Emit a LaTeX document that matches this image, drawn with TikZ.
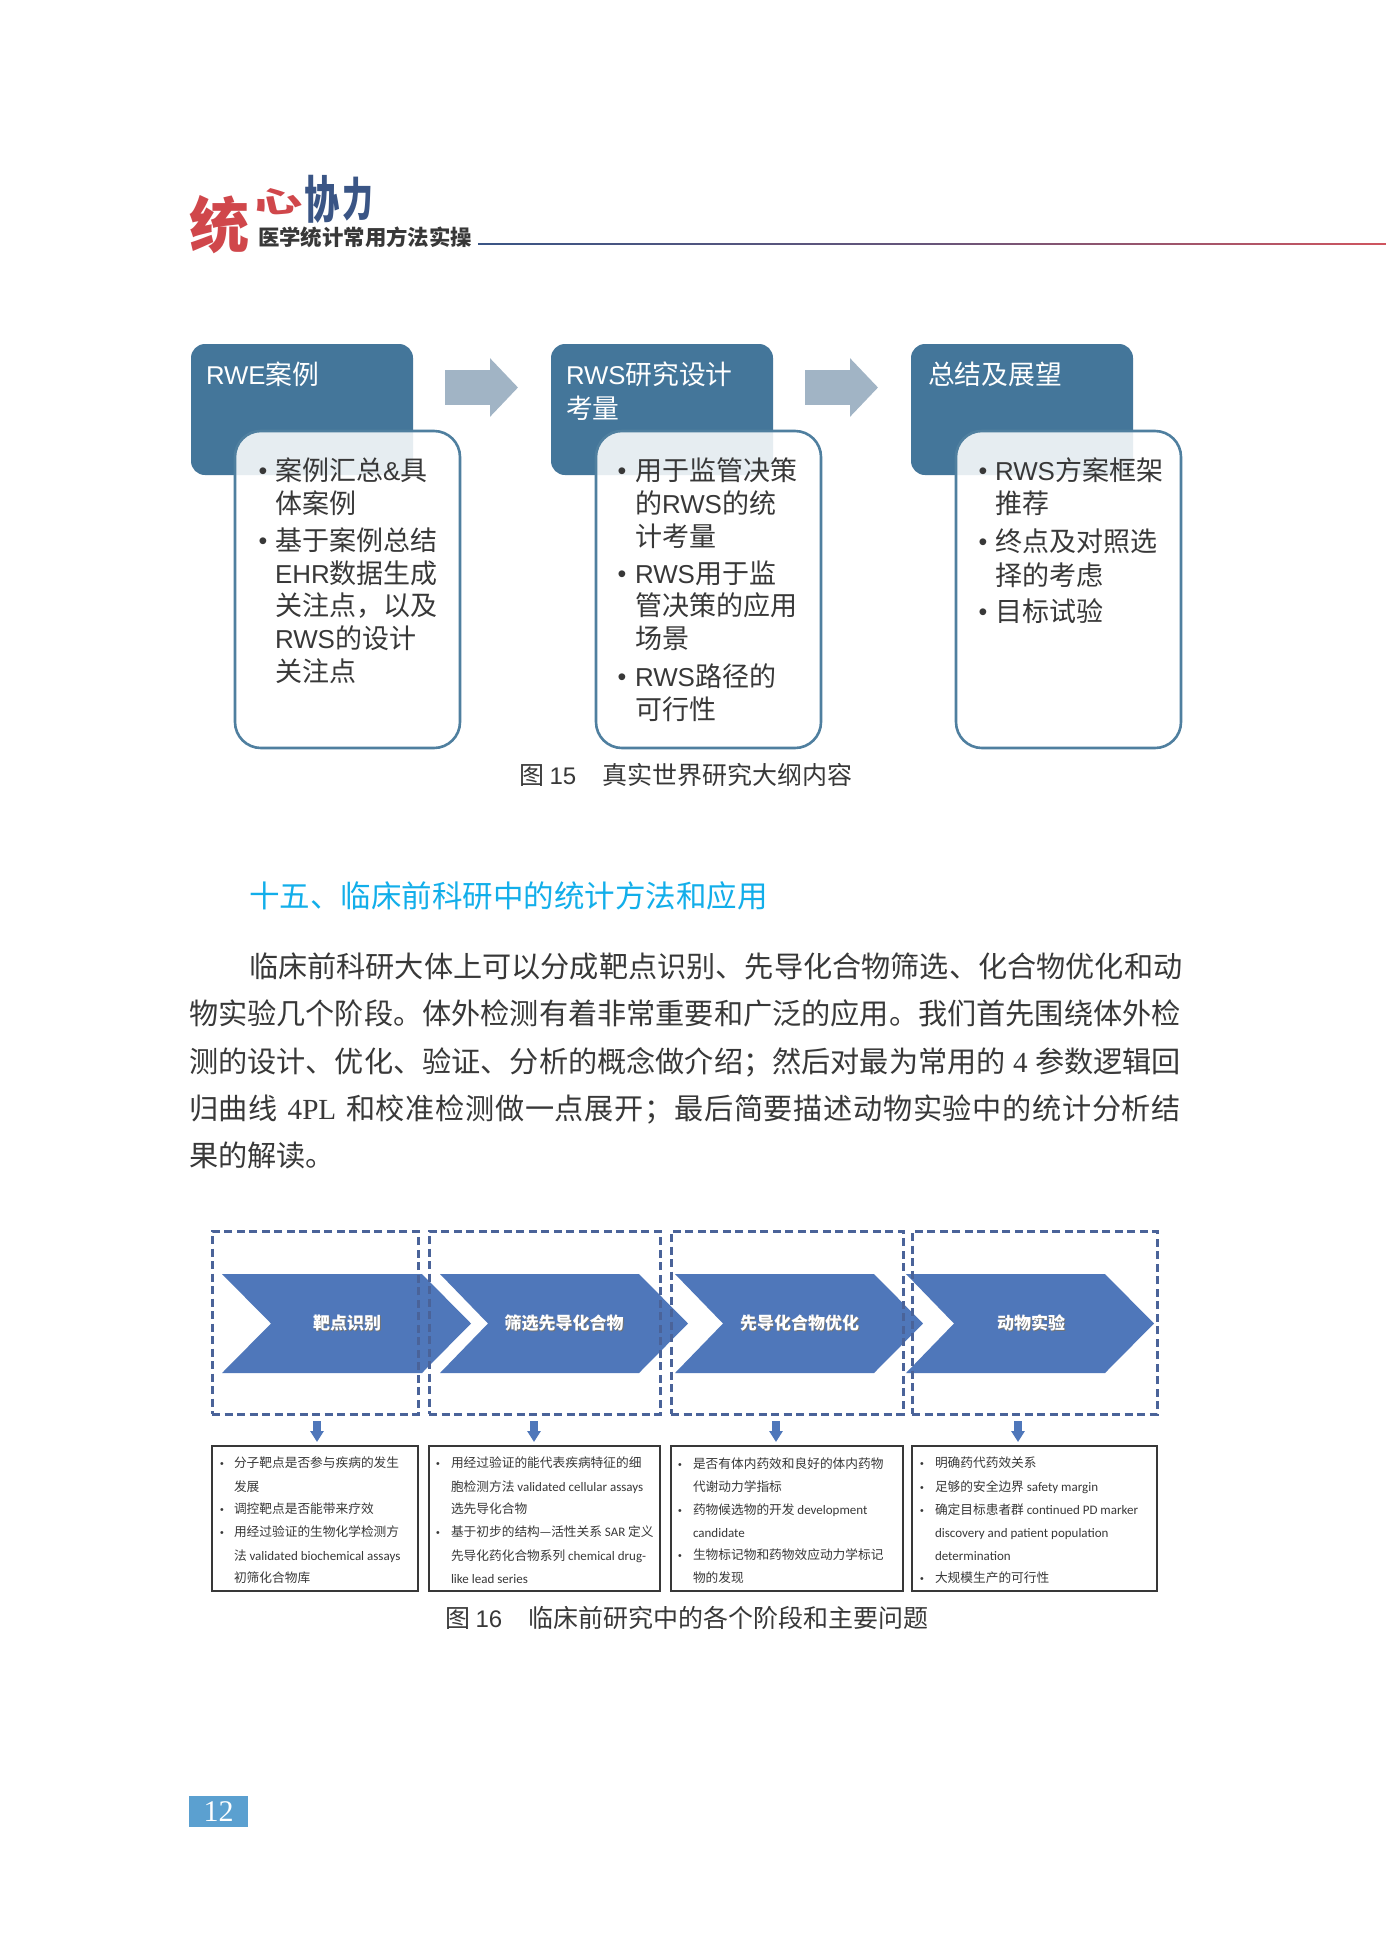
\documentclass[tikz,border=0pt]{standalone}
\usepackage{fontspec}
\usetikzlibrary{arrows.meta}
\setmainfont{Noto Sans CJK SC}
\newfontfamily\arialf[Scale=.96]{Liberation Sans}
\newfontfamily\timesf{Liberation Serif}
\newfontfamily\calf{Carlito}
\newcommand\AR[1]{{\arialf #1}}
\newcommand\TM[1]{{\timesf #1}}
\newcommand\CL[1]{{\calf\fontsize{13}{14}\selectfont #1}}
\newcommand\fs[1]{\fontsize{#1}{#1}\selectfont}
\definecolor{hdark}{HTML}{44769A}
\definecolor{hline}{HTML}{4F7F9F}
\definecolor{harrow}{HTML}{A1B4C5}
\definecolor{ink}{HTML}{383838}
\definecolor{dashc}{HTML}{4A6399}
\definecolor{chevc}{HTML}{4F77BA}
\definecolor{cyanh}{HTML}{12AEEA}
\definecolor{pageb}{HTML}{5BA0D0}
\definecolor{logor}{HTML}{D0474B}
\definecolor{logob}{HTML}{3A5585}
\definecolor{lineend}{HTML}{D0555F}
\tikzset{
  x=1pt,y=-1pt,
  sz/.code 2 args={\pgfmathsetmacro\myth{#2*.88}\pgfmathsetmacro\mytd{#2*.12}%
    \tikzset{font=#1\fs{#2},text height=\myth pt,text depth=\mytd pt}},
  tx/.style={inner sep=0pt,outer sep=0pt,anchor=west,text=ink},
  ctr/.style={tx,anchor=center},
  titletx/.style={tx,text=white,sz={}{26.8}},
  bodytx/.style={tx,sz={}{27}},
  bul/.style={ctr,sz={\arialf}{26}},
  darkbox/.style={fill=hdark,rounded corners=14pt,minimum width=222pt,minimum height=131pt,inner sep=0pt},
  whitebox/.style={draw=hline,line width=2.6pt,fill=white,fill opacity=.87,rounded corners=26pt,minimum width=225pt,minimum height=317pt,inner sep=0pt},
  bigarrow/.style={draw=harrow,line width=35pt,-{Triangle[length=28pt,width=57pt]}},
  captx/.style={tx,sz={}{25}},
  paratx/.style={tx,sz={}{29.17}},
  dashbox/.style={draw=dashc,line width=3pt,dash pattern=on 8pt off 4.5pt,minimum height=183pt,inner sep=0pt},
  solidbox/.style={draw=ink,line width=2.8pt,minimum height=145pt,inner sep=0pt},
  chevf/.style={fill=chevc},
  chevt/.style={ctr,text=white,sz={\bfseries}{17}},
  chevs/.style={ctr,text=black!55,sz={\bfseries}{17}},
  smalltx/.style={tx,sz={}{12.7}},
  sbul/.style={ctr,sz={\arialf}{11}},
  downarrow/.style={draw=chevc,line width=8pt,-{Triangle[length=11pt,width=13pt]}},
}
\newcommand\chevron[4]{\fill[chevf] (#1,1274) -- (#3,1274) -- (#4,1323.5) -- (#3,1373) -- (#1,1373) -- (#2,1323.5) -- cycle;}
\begin{document}
\begin{tikzpicture}
\useasboundingbox[fill=white] (0,0) rectangle (1386,1938);

% header
\begin{scope}[shift={(219,225)},xslant=.12]
  \node[ctr,text=logor,sz={\bfseries}{60}] (logoa) at (0,0) {统};
\end{scope}
\node[ctr,text=logor,sz={\bfseries}{48},yscale=.6,rotate=8] (logob) at (278,202) {心};
\begin{scope}[shift={(322,199)},xslant=.25]
  \node[ctr,text=logob,sz={\bfseries}{44},xscale=.8,yscale=1.15] (logoc) at (0,0) {协};
\end{scope}
\begin{scope}[shift={(358,199)},xslant=.25]
  \node[ctr,text=logob,sz={\bfseries}{44},xscale=.7,yscale=1.05] (logod) at (0,0) {力};
\end{scope}
\node[tx,sz={\bfseries}{21.4}] (head) at (258,237) {医学统计常用方法实操};
\shade[left color=logob,right color=lineend,middle color=logob!70!lineend] (478,243.4) rectangle (1386,244.6);

% figure 15
\node[darkbox] (d1) at (302,409.5) {};
\node[darkbox] (d2) at (662,409.5) {};
\node[darkbox] (d3) at (1022,409.5) {};
\node[titletx] (dt1) at (206,374) {\AR{RWE}案例};
\node[titletx] (dt2) at (566,374) {\AR{RWS}研究设计};
\node[titletx] (dt2b) at (566,408) {考量};
\node[titletx] (dt3) at (928,374) {总结及展望};
\node[whitebox] (w1) at (347.5,589.5) {};
\node[whitebox] (w2) at (708.5,589.5) {};
\node[whitebox] (w3) at (1068.5,589.5) {};
\coordinate (a1s) at (445,387.5); \coordinate (a1e) at (518,387.5);
\coordinate (a2s) at (805,387.5); \coordinate (a2e) at (878,387.5);
\draw[bigarrow] (a1s) -- (a1e);
\draw[bigarrow] (a2s) -- (a2e);

\node[bul] (b11) at (263,470) {•};
\node[bodytx] (l11) at (275,470) {案例汇总\AR{\&}具};
\node[bodytx] (l12) at (275,503) {体案例};
\node[bul] (b12) at (263,540) {•};
\node[bodytx] (l13) at (275,540) {基于案例总结};
\node[bodytx] (l14) at (275,573) {\AR{EHR}数据生成};
\node[bodytx] (l15) at (275,605) {关注点，以及};
\node[bodytx] (l16) at (275,638) {\AR{RWS}的设计};
\node[bodytx] (l17) at (275,671) {关注点};

\node[bul] (b21) at (622,470) {•};
\node[bodytx] (l21) at (635,470) {用于监管决策};
\node[bodytx] (l22) at (635,503) {的\AR{RWS}的统};
\node[bodytx] (l23) at (635,536) {计考量};
\node[bul] (b22) at (622,573) {•};
\node[bodytx] (l24) at (635,573) {\AR{RWS}用于监};
\node[bodytx] (l25) at (635,605) {管决策的应用};
\node[bodytx] (l26) at (635,638) {场景};
\node[bul] (b23) at (622,676) {•};
\node[bodytx] (l27) at (635,676) {\AR{RWS}路径的};
\node[bodytx] (l28) at (635,709) {可行性};

\node[bul] (b31) at (983,470) {•};
\node[bodytx] (l31) at (995,470) {\AR{RWS}方案框架};
\node[bodytx] (l32) at (995,503) {推荐};
\node[bul] (b32) at (983,541) {•};
\node[bodytx] (l33) at (995,541) {终点及对照选};
\node[bodytx] (l34) at (995,575) {择的考虑};
\node[bul] (b33) at (983,611) {•};
\node[bodytx] (l35) at (995,611) {目标试验};

\node[captx] (cap15a) at (519,775) {图 \AR{15}};
\node[captx] (cap15b) at (602,775) {真实世界研究大纲内容};

% section
\node[tx,text=cyanh,sz={}{30.5}] (sec) at (249,896) {十五、临床前科研中的统计方法和应用};
\node[paratx] (p1) at (249,966) {临床前科研大体上可以分成靶点识别、先导化合物筛选、化合物优化和动};
\node[paratx] (p2) at (189,1013) {物实验几个阶段。体外检测有着非常重要和广泛的应用。我们首先围绕体外检};
\node[paratx] (p3) at (189,1061) {\makebox[992pt][s]{测的设计、优化、验证、分析的概念做介绍；然后对最为常用的 \TM{4} 参数逻辑回}};
\node[paratx] (p4) at (189,1108) {\makebox[992pt][s]{\addfontfeature{LetterSpace=2.3}归曲线 \TM{4PL} 和校准检测做一点展开；最后简要描述动物实验中的统计分析结}};
\node[paratx] (p5) at (189,1155) {果的解读。};

% figure 16
\chevron{222}{271}{422}{471}
\chevron{440}{488}{639}{688}
\chevron{675}{723}{874}{923}
\chevron{906}{954}{1105}{1154}
\node[dashbox,minimum width=206pt] (db1) at (315,1322.5) {};
\node[dashbox,minimum width=231pt] (db2) at (544.5,1322.5) {};
\node[dashbox,minimum width=232pt] (db3) at (787,1322.5) {};
\node[dashbox,minimum width=245pt] (db4) at (1034.5,1322.5) {};
\node[chevs] (cs1) at (348,1324) {靶点识别};
\node[chevs] (cs2) at (565,1324) {筛选先导化合物};
\node[chevs] (cs3) at (800.5,1324) {先导化合物优化};
\node[chevs] (cs4) at (1032,1324) {动物实验};
\node[chevt] (ch1) at (347,1323) {靶点识别};
\node[chevt] (ch2) at (564,1323) {筛选先导化合物};
\node[chevt] (ch3) at (799.5,1323) {先导化合物优化};
\node[chevt] (ch4) at (1031,1323) {动物实验};

\node[solidbox,minimum width=206pt] (sb1) at (315,1518.5) {};
\node[solidbox,minimum width=231pt] (sb2) at (544.5,1518.5) {};
\node[solidbox,minimum width=232pt] (sb3) at (787,1518.5) {};
\node[solidbox,minimum width=245pt] (sb4) at (1034.5,1518.5) {};

\coordinate (ds1) at (317,1421); \coordinate (de1) at (317,1442);
\coordinate (ds2) at (534,1421); \coordinate (de2) at (534,1442);
\coordinate (ds3) at (776,1421); \coordinate (de3) at (776,1442);
\coordinate (ds4) at (1018,1421); \coordinate (de4) at (1018,1442);
\foreach \k in {1,2,3,4} \draw[downarrow] (ds\k) -- (de\k);

\node[sbul] (s11b) at (222,1463) {•};
\node[smalltx] (s11) at (234,1463) {分子靶点是否参与疾病的发生};
\node[smalltx] (s12) at (234,1487) {发展};
\node[sbul] (s13b) at (222,1509) {•};
\node[smalltx] (s13) at (234,1509) {调控靶点是否能带来疗效};
\node[sbul] (s14b) at (222,1532) {•};
\node[smalltx] (s14) at (234,1532) {用经过验证的生物化学检测方};
\node[smalltx] (s15) at (234,1556) {法 \CL{validated biochemical assays}};
\node[smalltx] (s16) at (234,1578) {初筛化合物库};

\node[sbul] (s21b) at (438,1463) {•};
\node[smalltx] (s21) at (451,1463) {用经过验证的能代表疾病特征的细};
\node[smalltx] (s22) at (451,1487) {胞检测方法 \CL{validated cellular assays}};
\node[smalltx] (s23) at (451,1509) {选先导化合物};
\node[sbul] (s24b) at (438,1532) {•};
\node[smalltx] (s24) at (451,1532) {基于初步的结构—活性关系 \CL{SAR} 定义};
\node[smalltx] (s25) at (451,1556) {先导化药化合物系列 \CL{chemical drug-}};
\node[smalltx] (s26) at (451,1579) {\CL{like lead series}};

\node[sbul] (s31b) at (680,1464) {•};
\node[smalltx] (s31) at (693,1464) {是否有体内药效和良好的体内药物};
\node[smalltx] (s32) at (693,1487) {代谢动力学指标};
\node[sbul] (s33b) at (680,1510) {•};
\node[smalltx] (s33) at (693,1510) {药物候选物的开发 \CL{development}};
\node[smalltx] (s34) at (693,1533) {\CL{candidate}};
\node[sbul] (s35b) at (680,1555) {•};
\node[smalltx] (s35) at (693,1555) {生物标记物和药物效应动力学标记};
\node[smalltx] (s36) at (693,1578) {物的发现};

\node[sbul] (s41b) at (922,1463) {•};
\node[smalltx] (s41) at (935,1463) {明确药代药效关系};
\node[sbul] (s42b) at (922,1487) {•};
\node[smalltx] (s42) at (935,1487) {足够的安全边界 \CL{safety margin}};
\node[sbul] (s43b) at (922,1510) {•};
\node[smalltx] (s43) at (935,1510) {确定目标患者群 \CL{continued PD marker}};
\node[smalltx] (s44) at (935,1533) {\CL{discovery and patient population}};
\node[smalltx] (s45) at (935,1556) {\CL{determination}};
\node[sbul] (s46b) at (922,1578) {•};
\node[smalltx] (s46) at (935,1578) {大规模生产的可行性};

\node[captx] (cap16a) at (445,1618) {图 \AR{16}};
\node[captx] (cap16b) at (528,1618) {临床前研究中的各个阶段和主要问题};

% page number
\node[fill=pageb,minimum width=59pt,minimum height=31pt,inner sep=0pt] (pg) at (218.5,1811.5) {};
\node[ctr,text=white,sz={\timesf}{30}] (pgt) at (218.5,1810) {12};
\end{tikzpicture}
\end{document}
